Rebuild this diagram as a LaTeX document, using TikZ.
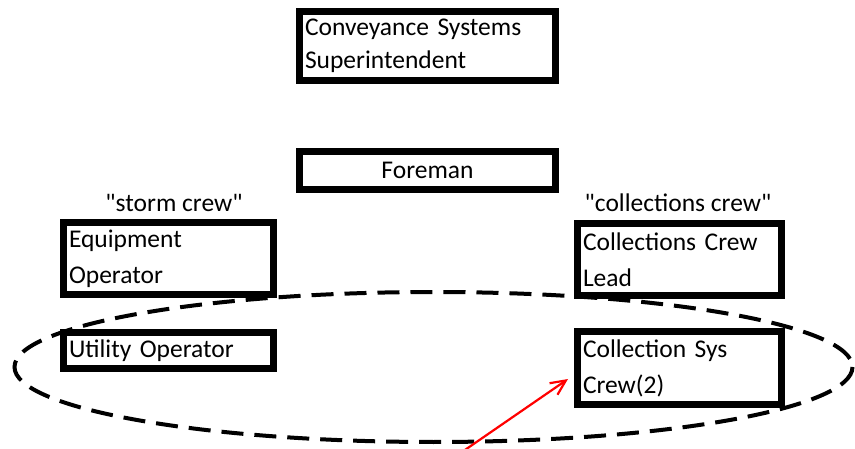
\documentclass[tikz,border=0pt]{standalone}
\usepackage{fontspec}
\setmainfont{Carlito}[Ligatures=TeXOff]
\usepackage{xcolor}
\usetikzlibrary{arrows.meta,positioning}

\begin{document}
\begin{tikzpicture}[
  x=1pt, y=-1pt,
  box/.style={draw, line width=7pt, inner xsep=5.5pt, inner ysep=0pt, align=left,
    font=\fontsize{25.5}{36}\selectfont},
  tag/.style={font=\fontsize{25.5}{30}\selectfont, inner sep=0pt},
  ring/.style={draw, dashed, line width=4pt, dash pattern=on 22pt off 11pt},
  >={Straight Barb[length=15pt, width=14pt]}
]
  \useasboundingbox (0,0) rectangle (855,449);
  \node[box, text width=245pt, minimum height=69pt, font=\fontsize{25.5}{33}\selectfont] (super) at (427.5,46) {Conveyance Systems\\Superintendent};
  \node[box, text width=245pt, minimum height=38pt, align=center, below=64pt of super] (foreman) {Foreman};
  \node[box, text width=199pt, minimum height=72pt] (equip) at (168.5,258.5) {Equipment\\Operator};
  \node[box, text width=199pt, minimum height=36pt, below=31pt of equip] (utility) {Utility Operator};
  \node[box, text width=193pt, minimum height=72pt] (lead) at (679.5,259.5) {Collections Crew\\Lead};
  \node[box, text width=193pt, minimum height=73pt, below=29pt of lead] (crew) {Collection Sys\\Crew(2)};
  \node[tag] (storm) at (174,203) {"storm crew"};
  \node[tag] (collect) at (678,203) {"collections crew"};
  % dashed ring round the crews
  \draw[ring] (433.5,367) ellipse [x radius=419, y radius=75];
  \coordinate (tail) at (462,452);
  \coordinate (tip) at (568,379);
  \draw[->, red, line width=2.2pt] (tail) -- (tip);
\end{tikzpicture}
\end{document}
